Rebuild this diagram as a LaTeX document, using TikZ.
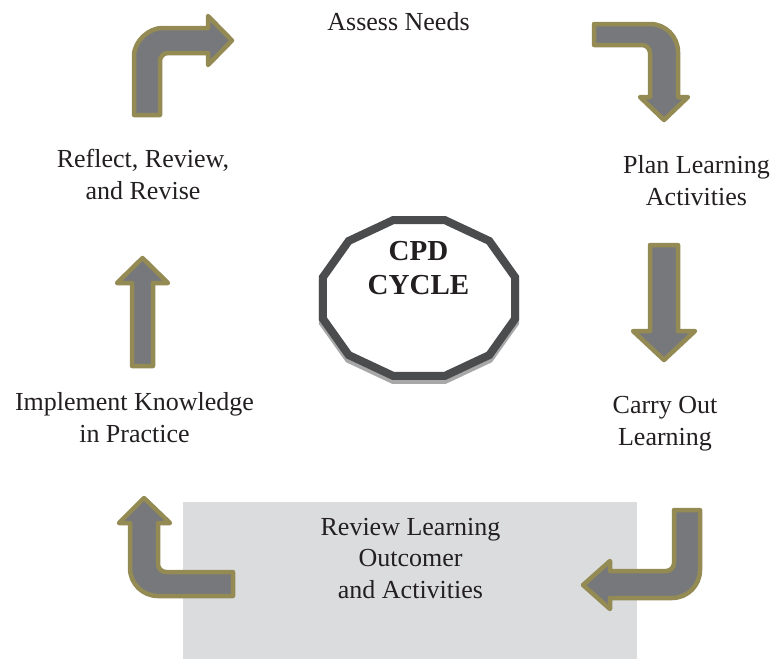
\documentclass[tikz,border=0pt]{standalone}
\usepackage{fontspec}
\setmainfont{Liberation Serif}
\definecolor{arrowfill}{HTML}{77787B}
\definecolor{arrowedge}{HTML}{948A54}
\definecolor{boxgray}{HTML}{DBDCDE}
\definecolor{txt}{HTML}{231F20}
\definecolor{polyedge}{HTML}{4B4C4E}
\definecolor{polyshadow}{HTML}{A8A8A8}
\begin{document}
\begin{tikzpicture}[x=1pt,y=-1pt,
  bent/.style={fill=arrowfill,draw=arrowedge,line width=4.5pt,line join=round},
  lbl/.style={font=\fontsize{26}{31.5}\selectfont, text=txt, align=center, inner sep=0pt, anchor=base},
  title/.style={font=\fontsize{29}{34}\selectfont\bfseries, text=txt, align=center, inner sep=0pt, anchor=base},
  polyline/.style={line width=8pt, line join=miter},
  ]
\useasboundingbox[fill=white] (0,0) rectangle (773,659);

% grey box behind the bottom label
\fill[boxgray] (183,502) rectangle (637,659);

% arrows
\draw[bent] (134,115) -- (134,56) .. controls (134,40.5) and (149.5,28) .. (162,28) -- (208,28) -- (208,16) -- (232,40.5) -- (208,65) -- (208,53) -- (168,53) .. controls (163.6,53) and (160,56.6) .. (160,61) -- (160,115) -- cycle;

\draw[bent] (594,24) -- (650,24) .. controls (665.5,24) and (678,36.5) .. (678,52) -- (678,97) -- (688,97) -- (664,120) -- (640,97) -- (650,97) -- (650,53) .. controls (650,48.6) and (646.4,45) .. (642,45) -- (594,45) -- cycle;

\draw[bent] (650,245) -- (678,245) -- (678,331) -- (695,331) -- (664,360) -- (633,331) -- (650,331) -- cycle;

\draw[bent] (674,510) -- (700,510) -- (700,570) .. controls (700,585.5) and (687.5,598) .. (672,598) -- (610,598) -- (610,609) -- (583,585) -- (610,561) -- (610,571) -- (666,571) .. controls (670.4,571) and (674,567.4) .. (674,563) -- cycle;

\draw[bent] (144,498) -- (170,523) -- (158,523) -- (158,564) .. controls (158,568.4) and (161.6,572) .. (166,572) -- (233,572) -- (233,596) -- (158,596) .. controls (142.5,596) and (130,583.5) .. (130,568) -- (130,523) -- (119,523) -- cycle;

\draw[bent] (132,366) -- (132,283) -- (117,283) -- (142.5,258) -- (168,283) -- (153,283) -- (153,366) -- cycle;

% central dodecagon with shadow
\begin{scope}[shift={(419,302)}]
  \draw[polyline, draw=polyshadow]
    (15:99.4 and 80.7) -- (45:99.4 and 80.7) -- (75:99.4 and 80.7) -- (105:99.4 and 80.7)
    -- (135:99.4 and 80.7) -- (165:99.4 and 80.7) -- (195:99.4 and 80.7) -- (225:99.4 and 80.7)
    -- (255:99.4 and 80.7) -- (285:99.4 and 80.7) -- (315:99.4 and 80.7) -- (345:99.4 and 80.7) -- cycle;
\end{scope}
\begin{scope}[shift={(419,298)}]
  \draw[polyline, draw=polyedge, fill=white]
    (15:99.4 and 80.7) -- (45:99.4 and 80.7) -- (75:99.4 and 80.7) -- (105:99.4 and 80.7)
    -- (135:99.4 and 80.7) -- (165:99.4 and 80.7) -- (195:99.4 and 80.7) -- (225:99.4 and 80.7)
    -- (255:99.4 and 80.7) -- (285:99.4 and 80.7) -- (315:99.4 and 80.7) -- (345:99.4 and 80.7) -- cycle;
\end{scope}

\node[title] (cpd) at (418.5,294) {CPD\\CYCLE};

% labels (anchor = baseline of last line)
\node[lbl] (assess) at (398.5,30) {Assess Needs};
\node[lbl] (plan) at (696.5,205) {Plan Learning\\Activities};
\node[lbl] (carry) at (665,445) {Carry Out\\Learning};
\node[lbl] (review) at (410.5,598) {Review Learning\\Outcomer\\and Activities};
\node[lbl] (implement) at (134.5,442) {Implement Knowledge\\in Practice};
\node[lbl] (reflect) at (143,199) {Reflect, Review,\\and Revise};
\end{tikzpicture}
\end{document}
